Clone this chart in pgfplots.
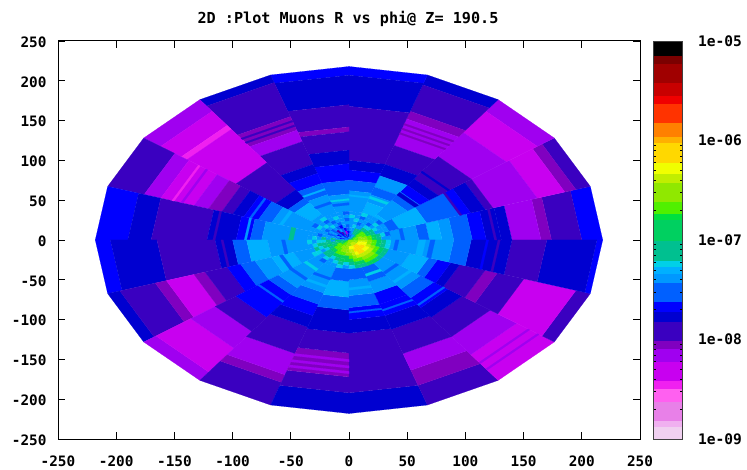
\documentclass[border=0pt]{standalone}
\usepackage{pgfplots}
\usepackage{pgfplotstable}
\usepackage{fontspec}
\setmainfont{DejaVu Sans Mono}
\pgfplotsset{compat=1.18}
\usepgfplotslibrary{patchplots}
\pgfplotsset{colormap={muon}{
rgb255(0)=(240,208,240) rgb255(12.8)=(240,208,240)
rgb255(13)=(240,176,240) rgb255(18.8)=(240,176,240)
rgb255(19)=(232,128,232) rgb255(37.8)=(232,128,232)
rgb255(38)=(255,96,240) rgb255(50.8)=(255,96,240)
rgb255(51)=(240,32,240) rgb255(58.8)=(240,32,240)
rgb255(59)=(200,0,240) rgb255(77.8)=(200,0,240)
rgb255(78)=(160,0,240) rgb255(90.8)=(160,0,240)
rgb255(91)=(128,0,192) rgb255(98.8)=(128,0,192)
rgb255(99)=(58,0,192) rgb255(117.8)=(58,0,192)
rgb255(118)=(0,0,208) rgb255(127.8)=(0,0,208)
rgb255(128)=(0,0,255) rgb255(137.8)=(0,0,255)
rgb255(138)=(0,96,255) rgb255(156.8)=(0,96,255)
rgb255(157)=(0,152,255) rgb255(165.8)=(0,152,255)
rgb255(166)=(0,176,255) rgb255(172.8)=(0,176,255)
rgb255(173)=(0,208,232) rgb255(178.8)=(0,208,232)
rgb255(179)=(0,192,144) rgb255(198.8)=(0,192,144)
rgb255(199)=(0,208,96) rgb255(219.8)=(0,208,96)
rgb255(220)=(0,224,64) rgb255(225.8)=(0,224,64)
rgb255(226)=(80,240,0) rgb255(237.8)=(80,240,0)
rgb255(238)=(144,232,0) rgb255(256.8)=(144,232,0)
rgb255(257)=(192,238,0) rgb255(265.8)=(192,238,0)
rgb255(266)=(240,255,0) rgb255(276.8)=(240,255,0)
rgb255(277)=(255,216,0) rgb255(296.8)=(255,216,0)
rgb255(297)=(255,176,0) rgb255(302.8)=(255,176,0)
rgb255(303)=(255,128,0) rgb255(316.8)=(255,128,0)
rgb255(317)=(255,51,0) rgb255(335.8)=(255,51,0)
rgb255(336)=(240,0,0) rgb255(343.8)=(240,0,0)
rgb255(344)=(200,0,0) rgb255(356.8)=(200,0,0)
rgb255(357)=(160,0,0) rgb255(375.8)=(160,0,0)
rgb255(376)=(123,0,0) rgb255(383.8)=(123,0,0)
rgb255(384)=(0,0,0) rgb255(398)=(0,0,0)
}}
% colour bar bands: lower and upper edge, in steps of 1/99.5 decade above 1e-9
\pgfplotstableread{
a b
0 13
13 19
19 38
38 51
51 59
59 78
78 91
91 99
99 118
118 128
128 138
138 157
157 166
166 173
173 179
179 199
199 220
220 226
226 238
238 257
257 266
266 277
277 297
297 303
303 317
317 336
336 344
344 357
357 376
376 384
384 398
}\bands
% sector s spans phi = 18 s .. 18 s + 18 degrees; r1 r2 radial range; v = log10 of the rate
\pgfplotstableread{
s r1 r2 v
0 200 218 -7.66
0 174 200 -7.91
0 165 174 -8.05
0 140 165 -8.15
0 131 140 -7.76
0 118 131 -7.76
0 106 118 -7.66
0 90 106 -7.52
0 80 90 -7.34
0 69 80 -7.28
0 60 69 -7.52
0 36 60 -7.34
1 205 218 -7.91
1 195 205 -8.05
1 170 195 -8.32
1 130 170 -8.15
1 123 130 -7.91
1 110 123 -7.76
1 100 110 -7.66
1 70 100 -7.52
1 45 70 -7.28
1 36 45 -7.52
2 200 218 -8.15
2 167 200 -8.32
2 130 167 -8.15
2 95 130 -7.91
2 85 95 -7.76
2 75 85 -7.66
2 62 75 -7.52
2 40 62 -7.34
2 36 40 -7.28
3 205 218 -7.76
3 170 205 -7.91
3 160 170 -8.05
3 125 160 -8.15
3 100 125 -7.91
3 85 100 -7.76
3 70 85 -7.34
3 60 70 -7.52
3 50 60 -7.34
3 36 50 -7.28
4 207 218 -7.66
4 168 207 -7.76
4 100 168 -7.91
4 88 100 -7.76
4 75 88 -7.66
4 62 75 -7.52
4 36 62 -7.34
5 207 218 -7.66
5 170 207 -7.76
5 142 170 -7.91
5 136 142 -8.05
5 113 136 -7.91
5 96 113 -7.76
5 75 96 -7.66
5 58 75 -7.52
5 36 58 -7.34
6 208 218 -7.76
6 163 208 -7.91
6 145 163 -8.05
6 130 145 -8.15
6 100 130 -7.91
6 88 100 -7.76
6 75 88 -7.66
6 60 75 -7.52
6 36 60 -7.34
7 200 218 -8.15
7 178 200 -8.32
7 172 178 -8.45
7 120 172 -8.32
7 78 120 -7.91
7 65 78 -7.76
7 58 65 -7.52
7 40 58 -7.28
7 36 40 -7.34
8 185 218 -7.91
8 170 185 -8.15
8 140 170 -8.32
8 127 140 -8.15
8 115 127 -8.05
8 105 115 -7.91
8 95 105 -7.76
8 82 95 -7.66
8 70 82 -7.52
8 36 70 -7.34
9 190 218 -7.66
9 170 190 -7.76
9 122 170 -7.91
9 97 122 -7.76
9 85 97 -7.66
9 75 85 -7.52
9 36 75 -7.34
10 205 218 -7.66
10 165 205 -7.76
10 115 165 -7.91
10 100 115 -7.76
10 88 100 -7.52
10 70 88 -7.28
10 36 70 -7.34
11 207 218 -7.76
11 175 207 -7.91
11 165 175 -8.05
11 140 165 -8.32
11 130 140 -8.05
11 110 130 -7.91
11 98 110 -7.66
11 85 98 -7.52
11 70 85 -7.34
11 50 70 -7.28
11 36 50 -7.34
12 205 218 -8.15
12 168 205 -8.32
12 142 168 -8.15
12 120 142 -7.91
12 85 120 -7.66
12 75 85 -7.52
12 36 75 -7.34
13 188 218 -7.91
13 178 188 -8.05
13 150 178 -8.15
13 115 150 -7.91
13 100 115 -7.76
13 85 100 -7.66
13 70 85 -7.52
13 36 70 -7.34
14 192 218 -7.76
14 172 192 -7.91
14 142 172 -8.05
14 117 142 -7.91
14 88 117 -7.76
14 72 88 -7.52
14 52 72 -7.28
14 36 52 -7.52
15 192 218 -7.76
15 117 192 -7.91
15 100 117 -7.76
15 85 100 -7.66
15 70 85 -7.52
15 50 70 -7.34
15 36 50 -7.52
16 192 218 -7.91
16 172 192 -8.05
16 150 172 -8.15
16 118 150 -7.91
16 100 118 -7.76
16 85 100 -7.66
16 70 85 -7.66
16 55 70 -7.34
16 36 55 -7.52
17 178 218 -8.32
17 150 178 -8.15
17 120 150 -7.91
17 105 120 -7.76
17 90 105 -7.66
17 76 90 -7.52
17 36 76 -7.34
18 205 218 -7.91
18 158 205 -8.32
18 134 158 -7.91
18 123 134 -8.05
18 100 123 -7.91
18 92 100 -7.76
18 80 92 -7.66
18 72 80 -7.52
18 55 72 -7.28
18 36 55 -7.34
19 213 218 -7.66
19 170 213 -7.76
19 140 170 -7.91
19 105 140 -7.76
19 90 105 -7.52
19 36 90 -7.34
3 140 142 -8.05
3 146 148 -8.05
3 152 154 -8.05
6 150 152 -7.91
6 156 158 -7.91
8 150 152 -8.15
8 158 160 -8.45
14 150 153 -8.15
14 158 161 -8.15
14 165 168 -8.15
17 190 192 -8.15
17 200 202 -8.15
1 100 102 -7.91
2 105 107 -7.76
0 125 127 -7.91
19 128 130 -7.91
19 118 120 -7.66
9 115 117 -7.91
10 108 110 -7.91
3 55 58 -7.23
2 70 74 -7.76
6 48 51 -7.52
8 60 63 -7.28
9 48 52 -7.10
10 55 58 -7.52
11 60 63 -7.52
12 60 63 -7.52
12 45 48 -7.23
13 50 53 -7.52
13 60 63 -7.28
15 60 63 -7.28
16 45 48 -7.23
17 50 53 -7.52
17 64 67 -7.28
19 70 74 -7.52
19 60 66 -7.28
19 40 43 -7.52
0 45 48 -7.52
4 55 57 -7.28
5 44 47 -7.52
5 50 52 -7.23
6 66 68 -7.28
8 88 90 -7.52
9 88 90 -7.34
12 95 97 -7.52
15 90 92 -7.52
16 92 94 -7.52
17 100 102 -7.52
}\cells
% centre: rings r1..r2, columns c0..c39 of 9 degrees each
\pgfplotstableread{
r1 r2 c0 c1 c2 c3 c4 c5 c6 c7 c8 c9 c10 c11 c12 c13 c14 c15 c16 c17 c18 c19 c20 c21 c22 c23 c24 c25 c26 c27 c28 c29 c30 c31 c32 c33 c34 c35 c36 c37 c38 c39
0 4 -6.89 -6.89 -6.89 -6.89 -6.89 -7.10 -7.34 -7.34 -7.10 -7.34 -7.52 -7.34 -7.52 -7.66 -7.52 -7.34 -7.52 -7.34 -7.52 -7.34 -7.34 -7.10 -7.10 -6.89 -6.89 -6.67 -6.67 -6.67 -6.52 -6.52 -6.52 -6.52 -6.52 -6.52 -6.52 -6.52 -6.52 -6.52 -6.52 -6.52
4 8 -6.67 -6.67 -6.67 -6.67 -6.89 -7.10 -7.34 -7.34 -7.52 -7.34 -7.66 -7.52 -7.91 -7.52 -7.66 -7.52 -7.34 -7.52 -7.66 -7.34 -7.10 -7.10 -6.89 -6.89 -6.89 -6.67 -6.67 -6.67 -6.52 -6.52 -6.52 -6.52 -6.38 -6.38 -6.38 -6.38 -6.38 -6.52 -6.52 -6.52
8 12 -6.52 -6.52 -6.52 -6.67 -6.67 -6.89 -7.10 -7.10 -7.34 -7.52 -7.66 -8.15 -7.52 -7.91 -7.66 -7.52 -7.66 -7.34 -7.52 -7.34 -6.89 -7.10 -6.89 -6.67 -6.67 -6.67 -6.52 -6.52 -6.52 -6.52 -6.28 -6.28 -6.28 -6.12 -6.12 -6.12 -6.28 -6.28 -6.28 -6.38
12 16 -6.52 -6.52 -6.67 -6.67 -6.67 -6.89 -7.10 -7.10 -7.34 -7.34 -7.52 -7.66 -7.52 -7.34 -7.91 -7.52 -7.34 -7.52 -7.34 -7.10 -7.34 -7.10 -7.10 -6.89 -6.67 -6.67 -6.67 -6.52 -6.52 -6.52 -6.38 -6.38 -6.12 -6.12 -6.12 -6.12 -6.12 -6.28 -6.28 -6.38
16 20 -6.67 -6.67 -6.89 -6.89 -7.10 -7.10 -7.34 -7.34 -7.23 -7.34 -7.52 -7.34 -7.66 -7.52 -7.34 -7.52 -7.34 -7.52 -7.34 -7.34 -7.10 -7.10 -6.89 -7.10 -6.89 -6.89 -6.67 -6.67 -6.67 -6.52 -6.52 -6.38 -6.28 -6.12 -6.12 -6.28 -6.28 -6.38 -6.52 -6.52
20 24 -6.89 -6.89 -7.10 -7.10 -7.23 -7.23 -7.34 -7.52 -7.34 -7.34 -7.34 -7.34 -7.52 -7.34 -7.23 -7.34 -7.52 -7.34 -7.34 -7.10 -7.23 -7.10 -7.10 -7.23 -7.10 -7.10 -6.89 -6.89 -6.89 -6.89 -6.67 -6.52 -6.38 -6.38 -6.38 -6.38 -6.38 -6.52 -6.67 -6.67
24 28 -7.10 -7.10 -7.34 -7.23 -7.34 -7.52 -7.34 -7.34 -7.23 -7.34 -7.52 -7.34 -7.34 -7.52 -7.34 -7.23 -7.34 -7.34 -7.52 -7.34 -7.23 -7.10 -7.23 -7.34 -7.10 -7.10 -7.23 -7.10 -6.89 -6.89 -6.89 -6.67 -6.67 -6.52 -6.52 -6.52 -6.67 -6.67 -6.89 -6.89
28 32 -7.34 -7.23 -7.34 -7.34 -7.23 -7.34 -7.34 -7.52 -7.34 -7.23 -7.34 -7.34 -7.23 -7.34 -7.52 -7.34 -7.23 -7.34 -7.34 -7.23 -7.34 -7.23 -7.10 -7.23 -7.34 -7.23 -7.34 -7.23 -7.10 -7.23 -7.10 -6.89 -6.89 -6.67 -6.67 -6.67 -6.89 -6.89 -7.10 -7.10
32 36 -7.34 -7.52 -7.34 -7.34 -7.52 -7.34 -7.34 -7.23 -7.34 -7.34 -7.52 -7.34 -7.34 -7.34 -7.23 -7.34 -7.52 -7.34 -7.34 -7.34 -7.23 -7.34 -7.34 -7.23 -7.34 -7.52 -7.34 -7.34 -7.23 -7.34 -7.23 -7.10 -7.10 -6.89 -6.89 -7.10 -7.10 -7.10 -7.23 -7.23
}\inner
\begin{document}
\begin{tikzpicture}
\path[use as bounding box] (0,0) rectangle (747bp,470bp);
\gdef\coords{}
\pgfplotstablegetrowsof{\cells}\pgfmathtruncatemacro\nc{\pgfplotsretval-1}
\foreach \i in {0,...,\nc}{
  \pgfplotstablegetelem{\i}{s}\of\cells\let\sv\pgfplotsretval
  \pgfplotstablegetelem{\i}{r1}\of\cells\let\ra\pgfplotsretval
  \pgfplotstablegetelem{\i}{r2}\of\cells\let\rb\pgfplotsretval
  \pgfplotstablegetelem{\i}{v}\of\cells\let\vv\pgfplotsretval
  \pgfmathsetmacro\pa{18*\sv}\pgfmathsetmacro\pb{18*\sv+18}
  \pgfmathsetmacro\xa{\ra*cos(\pa)}\pgfmathsetmacro\ya{\ra*sin(\pa)}
  \pgfmathsetmacro\xb{\rb*cos(\pa)}\pgfmathsetmacro\yb{\rb*sin(\pa)}
  \pgfmathsetmacro\xc{\rb*cos(\pb)}\pgfmathsetmacro\yc{\rb*sin(\pb)}
  \pgfmathsetmacro\xd{\ra*cos(\pb)}\pgfmathsetmacro\yd{\ra*sin(\pb)}
  \xdef\coords{\coords (\xa,\ya)[\vv] (\xb,\yb)[\vv] (\xc,\yc)[\vv] (\xd,\yd)[\vv]}
}
\pgfplotstablegetrowsof{\inner}\pgfmathtruncatemacro\ni{\pgfplotsretval-1}
\foreach \i in {0,...,\ni}{
  \pgfplotstablegetelem{\i}{r1}\of\inner\let\ra\pgfplotsretval
  \pgfplotstablegetelem{\i}{r2}\of\inner\let\rb\pgfplotsretval
  \foreach \j in {0,...,39}{
    \pgfplotstablegetelem{\i}{c\j}\of\inner\let\vv\pgfplotsretval
    \pgfmathsetmacro\pa{9*\j}\pgfmathsetmacro\pb{9*\j+9}
    \pgfmathsetmacro\xa{\ra*cos(\pa)}\pgfmathsetmacro\ya{\ra*sin(\pa)}
    \pgfmathsetmacro\xb{\rb*cos(\pa)}\pgfmathsetmacro\yb{\rb*sin(\pa)}
    \pgfmathsetmacro\xc{\rb*cos(\pb)}\pgfmathsetmacro\yc{\rb*sin(\pb)}
    \pgfmathsetmacro\xd{\ra*cos(\pb)}\pgfmathsetmacro\yd{\ra*sin(\pb)}
    \xdef\coords{\coords (\xa,\ya)[\vv] (\xb,\yb)[\vv] (\xc,\yc)[\vv] (\xd,\yd)[\vv]}
  }
}
\gdef\barcoords{}
\pgfplotstablegetrowsof{\bands}\pgfmathtruncatemacro\nb{\pgfplotsretval-1}
\foreach \i in {0,...,\nb}{
  \pgfplotstablegetelem{\i}{a}\of\bands\let\ra\pgfplotsretval
  \pgfplotstablegetelem{\i}{b}\of\bands\let\rb\pgfplotsretval
  \pgfmathsetmacro\ya{-9+\ra/99.5}\pgfmathsetmacro\yb{-9+\rb/99.5}
  \pgfmathsetmacro\vv{-9+(\ra+\rb)/199}
  \xdef\barcoords{\barcoords (0,\ya)[\vv] (1,\ya)[\vv] (1,\yb)[\vv] (0,\yb)[\vv]}
}
\pgfplotsset{cellplot/.style={patch,patch type=rectangle,shader=flat,point meta=explicit,line width=0.15pt}}
\begin{axis}[
  at={(58bp,31bp)},anchor=south west,scale only axis,width=582bp,height=398bp,
  xmin=-250,xmax=250,ymin=-250,ymax=250,
  xtick={-250,-200,...,250},ytick={-250,-200,...,250},
  colormap name=muon,point meta min=-9,point meta max=-5,
  axis line style={black,line width=1pt},
  tick style={black,line width=0.9pt},
  tick align=inside,major tick length=7bp,
  tick pos=both,
  axis on top,
  /pgf/number format/assume math mode=true,
  /pgf/number format/1000 sep={},
  ticklabel style={font=\fontsize{14.4}{14.4}\selectfont\bfseries},
  yticklabel style={xshift=-8bp,yshift=-1bp},
  xticklabel style={yshift=-13bp},
]
\edef\temp{\noexpand\addplot[cellplot] coordinates {\coords};}
\temp
\end{axis}
\begin{axis}[
  at={(653bp,31bp)},anchor=south west,scale only axis,width=29.5bp,height=398bp,
  xmin=0,xmax=1,ymin=-9,ymax=-5,
  xtick=\empty,
  ytick={-9,-8,-7,-6,-5},
  yticklabels={1e-09,1e-08,1e-07,1e-06,1e-05},
  minor ytick={-8.699,-8.523,-8.398,-8.301,-8.222,-8.155,-8.097,-8.046,-7.699,-7.523,-7.398,-7.301,-7.222,-7.155,-7.097,-7.046,-6.699,-6.523,-6.398,-6.301,-6.222,-6.155,-6.097,-6.046},
  colormap name=muon,point meta min=-9,point meta max=-5,
  axis line style={black!75,line width=0.8pt},
  tick style={black,line width=0.8pt},
  tick align=inside,major tick length=0bp,minor tick length=2.5bp,
  ytick pos=both,yticklabel pos=right,
  axis on top,
  ticklabel style={font=\fontsize{14.6}{14.6}\selectfont\bfseries},
  yticklabel style={xshift=12bp},
]
\edef\temp{\noexpand\addplot[cellplot] coordinates {\barcoords};}
\temp
\end{axis}
\node[font=\fontsize{15.2}{15.2}\selectfont\bfseries] at (348bp,451bp) {2D :Plot Muons R vs phi@ Z= 190.5};
\end{tikzpicture}
\end{document}
